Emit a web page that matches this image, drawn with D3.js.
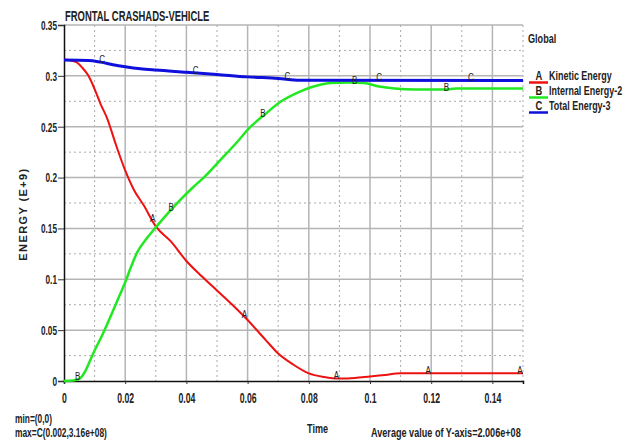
<!DOCTYPE html>
<html>
<head>
<meta charset="utf-8">
<script src="https://cdn.jsdelivr.net/npm/d3@7"></script>
<style>
  body { margin: 0; background: #fff; }
  svg text { font-family: "Liberation Sans", Arial, sans-serif; fill: #222; }
</style>
</head>
<body>
<div id="chart"></div>
<script>
let width = 635;
let height = 443;
let padLeft = 64, padRight = 523, padTop = 25, padBottom = 381;

// kinetic energy (A)
let timeA = [0, 0.004, 0.006, 0.008, 0.010, 0.012, 0.014, 0.017, 0.020, 0.023, 0.026, 0.030, 0.035, 0.040, 0.045, 0.050, 0.055, 0.060, 0.066, 0.070, 0.075, 0.080, 0.085, 0.090, 0.095, 0.100, 0.105, 0.110, 0.130, 0.150];
let kinetic = [0.316, 0.3135, 0.308, 0.300, 0.287, 0.272, 0.259, 0.232, 0.207, 0.187, 0.173, 0.152, 0.137, 0.118, 0.103, 0.089, 0.075, 0.060, 0.040, 0.027, 0.016, 0.0075, 0.004, 0.0025, 0.003, 0.0045, 0.006, 0.0075, 0.0075, 0.0075];

// internal energy (B)
let timeB = [0, 0.003, 0.005, 0.007, 0.0085, 0.010, 0.012, 0.015, 0.018, 0.020, 0.022, 0.024, 0.027, 0.030, 0.034, 0.038, 0.042, 0.046, 0.051, 0.056, 0.061, 0.066, 0.071, 0.076, 0.081, 0.087, 0.093, 0.098, 0.103, 0.108, 0.115, 0.125, 0.128, 0.150];
let internal = [0, 0.0005, 0.002, 0.010, 0.020, 0.030, 0.042, 0.062, 0.083, 0.097, 0.113, 0.127, 0.140, 0.151, 0.165, 0.178, 0.190, 0.201, 0.217, 0.233, 0.250, 0.263, 0.275, 0.283, 0.289, 0.293, 0.2935, 0.293, 0.2895, 0.2875, 0.2865, 0.2865, 0.2875, 0.2875];

// total energy (C)
let timeC = [0, 0.008, 0.012, 0.016, 0.020, 0.025, 0.030, 0.040, 0.050, 0.060, 0.070, 0.077, 0.150];
let total = [0.3155, 0.3152, 0.3135, 0.311, 0.309, 0.307, 0.3057, 0.3036, 0.3014, 0.299, 0.2975, 0.2958, 0.2955];

// where the curve letters sit
let markA = [0.029, 0.059, 0.089, 0.119, 0.149];
let markB = [0.0045, 0.035, 0.065, 0.095, 0.125];
let markC = [0.0125, 0.043, 0.073, 0.103, 0.133];

let xTicks = [0, 0.02, 0.04, 0.06, 0.08, 0.1, 0.12, 0.14];
let yTicks = [0, 0.05, 0.1, 0.15, 0.2, 0.25, 0.3, 0.35];

let series = [
    {letter: "A", name: "Kinetic Energy", t: timeA, v: kinetic, marks: markA, color: "#ee1111", w: 2},
    {letter: "B", name: "Internal Energy-2", t: timeB, v: internal, marks: markB, color: "#22e822", w: 2.5},
    {letter: "C", name: "Total Energy-3", t: timeC, v: total, marks: markC, color: "#1010dd", w: 3}
];

// the original uses a narrow font, so squeeze text sideways
function squeeze(sel, k) {
    sel.each(function () {
        let t = d3.select(this);
        let x = +t.attr("x") || 0;
        t.attr("x", x / k).attr("transform", `scale(${k},1)`);
    });
    return sel;
}

let xScale = d3.scaleLinear().domain([0, 0.15]).range([padLeft, padRight]);
let yScale = d3.scaleLinear().domain([0, 0.35]).range([padBottom, padTop]);

let svg = d3.select("#chart").append("svg")
    .attr("width", width)
    .attr("height", height);

// grid: solid on majors, dotted in between
let grid = svg.append("g");
d3.range(1, 16).forEach(i => {
    let x = xScale(i * 0.01);
    grid.append("line")
        .attr("x1", x).attr("x2", x).attr("y1", padTop).attr("y2", padBottom)
        .attr("stroke", i % 2 ? "#aaa" : "#b5b5b5")
        .attr("stroke-width", i % 2 ? 1 : 1.5)
        .attr("stroke-dasharray", i % 2 ? "2,3" : null);
});
d3.range(1, 15).forEach(i => {
    let y = yScale(i * 0.025);
    grid.append("line")
        .attr("x1", padLeft).attr("x2", padRight).attr("y1", y).attr("y2", y)
        .attr("stroke", i % 2 ? "#aaa" : "#b5b5b5")
        .attr("stroke-width", i % 2 ? 1 : 1.5)
        .attr("stroke-dasharray", i % 2 ? "2,3" : null);
});

// axes
let fmt = d => d === 0 ? "0" : String(+d.toFixed(2));
let xAxis = svg.append("g")
    .attr("transform", `translate(0,${padBottom})`)
    .call(d3.axisBottom(xScale).tickValues(xTicks).tickSize(3).tickPadding(9).tickFormat(fmt));
let yAxis = svg.append("g")
    .attr("transform", `translate(${padLeft},0)`)
    .call(d3.axisLeft(yScale).tickValues(yTicks).tickSize(6).tickPadding(1).tickFormat(fmt));
[xAxis, yAxis].forEach(a => {
    a.select(".domain").attr("stroke", "#111").attr("stroke-width", 1.5);
    a.selectAll(".tick line").attr("stroke", "#333");
    a.selectAll("text").attr("font-weight", "bold")
        .attr("font-family", '"Liberation Sans", Arial, sans-serif')
        .attr("fill", "#333");
});
xAxis.selectAll("text").attr("font-size", 14).call(squeeze, 0.62);
yAxis.selectAll("text").attr("font-size", 12.5).attr("dy", "0.35em").call(squeeze, 0.66);

// curves
let line = d3.line()
    .x(d => xScale(d[0]))
    .y(d => yScale(d[1]))
    .curve(d3.curveMonotoneX);

series.forEach(s => {
    let pts = s.t.map((t, i) => [t, s.v[i]]);
    svg.append("path")
        .datum(pts)
        .attr("fill", "none")
        .attr("stroke", s.color)
        .attr("stroke-width", s.w)
        .attr("d", line);
});

// curve letters
series.forEach(s => {
    let interp = t => {
        let i = d3.bisectRight(s.t, t);
        if (i <= 0) return s.v[0];
        if (i >= s.t.length) return s.v[s.v.length - 1];
        let f = (t - s.t[i - 1]) / (s.t[i] - s.t[i - 1]);
        return s.v[i - 1] + f * (s.v[i] - s.v[i - 1]);
    };
    s.marks.forEach(t => {
        svg.append("text")
            .attr("x", xScale(t))
            .attr("y", yScale(interp(t)) + 1)
            .attr("text-anchor", "middle")
            .attr("font-size", 11.5)
            .attr("fill", "#444")
            .text(s.letter)
            .call(squeeze, 0.7);
    });
});

// title
svg.append("text")
    .attr("x", padLeft + 1).attr("y", 21)
    .attr("font-size", 15).attr("font-weight", "bold")
    .text("FRONTAL CRASHADS-VEHICLE")
    .call(squeeze, 0.63);

// y title
svg.append("text")
    .attr("transform", `translate(27,214) rotate(-90)`)
    .attr("text-anchor", "middle")
    .attr("font-size", 11).attr("font-weight", "bold")
    .attr("letter-spacing", 1.4)
    .attr("fill", "#333")
    .text("ENERGY (E+9)");

// legend
svg.append("text").attr("x", 528).attr("y", 43)
    .attr("font-size", 13).attr("font-weight", "bold").attr("fill", "#333")
    .text("Global").call(squeeze, 0.7);
series.forEach((s, i) => {
    let y = 82.5 + i * 15;
    svg.append("line")
        .attr("x1", 529).attr("x2", 548).attr("y1", y).attr("y2", y)
        .attr("stroke", s.color).attr("stroke-width", 2.5);
    svg.append("text").attr("x", 539).attr("y", y - 2)
        .attr("text-anchor", "middle").attr("font-size", 13).attr("font-weight", "bold")
        .attr("fill", "#333").text(s.letter).call(squeeze, 0.72);
    svg.append("text").attr("x", 549).attr("y", y - 2)
        .attr("font-size", 13).attr("font-weight", "bold").attr("fill", "#333")
        .text(s.name).call(squeeze, 0.69);
});

// footer notes
let foot = [
    {x: 15, y: 423, text: "min=(0,0)", size: 12},
    {x: 15, y: 437, text: "max=C(0.002,3.16e+08)", size: 12},
    {x: 307, y: 433, text: "Time", size: 13},
    {x: 371, y: 437, text: "Average value of Y-axis=2.006e+08", size: 13}
];
foot.forEach(f => {
    svg.append("text").attr("x", f.x).attr("y", f.y)
        .attr("font-size", f.size).attr("font-weight", "bold").attr("fill", "#333")
        .text(f.text).call(squeeze, 0.7);
});
</script>
</body>
</html>
